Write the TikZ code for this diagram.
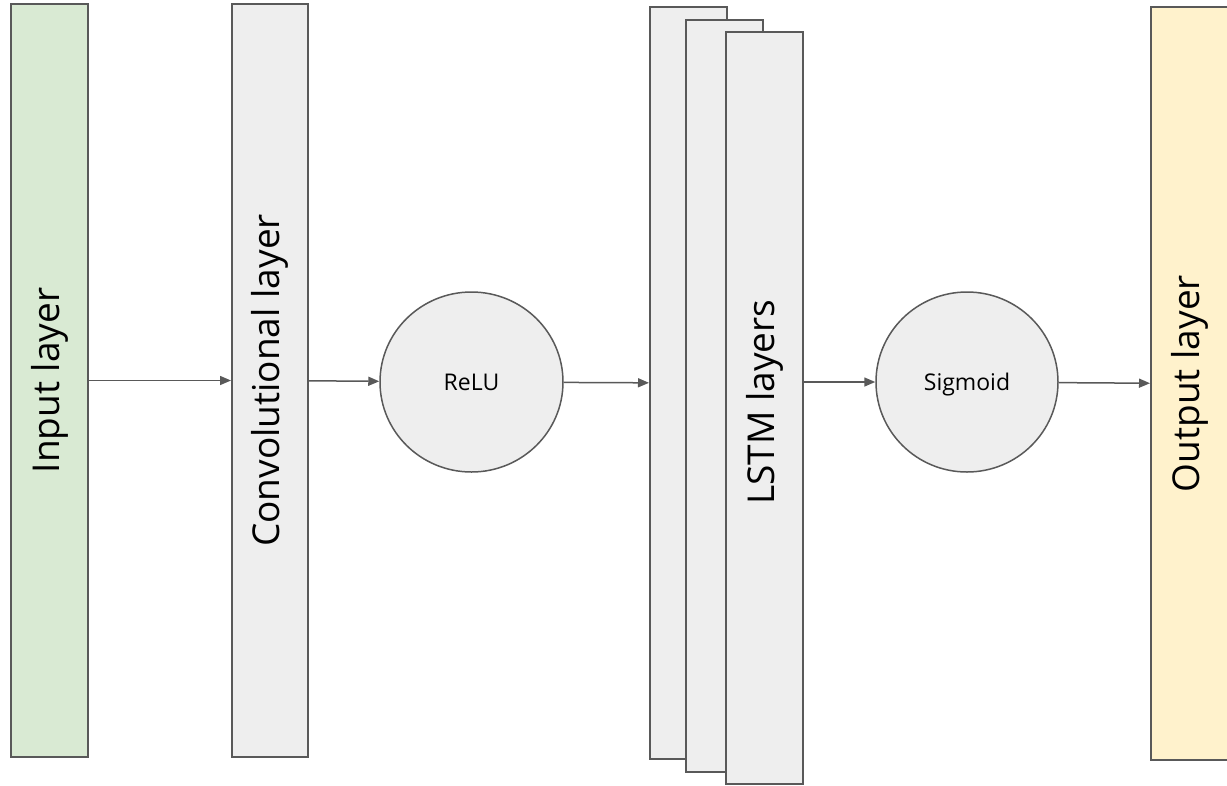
\documentclass[tikz,border=0pt]{standalone}
\usepackage{fontspec}
\setmainfont{Open Sans}
\usetikzlibrary{arrows.meta,shapes.geometric}
\definecolor{edge}{HTML}{595959}
\definecolor{greyfill}{HTML}{EEEEEE}
\definecolor{greenfill}{HTML}{D9EAD3}
\definecolor{yellowfill}{HTML}{FFF2CC}
\newcommand{\biglabel}{\fontsize{37}{44}\selectfont}
\newcommand{\smalllabel}{\fontsize{23}{28}\selectfont}
\tikzset{
  layerbox/.style={rectangle, draw=edge, line width=2pt, inner sep=0pt,
    minimum width=77pt, minimum height=753pt, fill=greyfill},
  actnode/.style={ellipse, draw=edge, line width=1.5pt, fill=greyfill, inner sep=0pt,
    minimum width=183pt, minimum height=180pt, font=\smalllabel,
    text height=16.4pt, text depth=0pt},
  vtext/.style={rotate=90, font=\biglabel, inner sep=0pt},
  link/.style={draw=edge, line width=1.5pt, -{Triangle[length=11pt,width=9pt]}}
}
\begin{document}
\begin{tikzpicture}[x=1pt,y=-1pt]
  \clip (0,0) rectangle (1227,785);
  \fill[white] (0,0) rectangle (1227,785);

  % layers
  \node[layerbox, fill=greenfill, label={[vtext]center:Input layer}] (in) at (49.5,380.5) {};
  \node[layerbox, minimum width=76pt, label={[vtext]center:Convolutional layer}] (conv) at (270,380.5) {};
  \node[actnode] (relu) at (471.5,382) {ReLU};
  \node[layerbox, minimum height=752pt] (lstm1) at (688.5,383) {};
  \node[layerbox, minimum height=752pt] (lstm2) at (724.5,396) {};
  \node[layerbox, minimum height=752pt] (lstm3) at (764.5,408) {};
  \node[vtext] (lstmtxt) at (764.5,402) {LSTM layers};
  \node[actnode, minimum width=182pt] (sig) at (967,382) {Sigmoid};
  \node[layerbox, fill=yellowfill, label={[vtext]center:Output layer}] (out) at (1189.5,383.5) {};

  % connectors
  \draw[link] (in) -- (conv);
  \draw[link] (conv) -- (relu);
  \draw[link] (relu) -- (lstm1);
  \draw[link] (lstm3.east |- sig) -- (sig);
  \draw[link] (sig) -- (out);
\end{tikzpicture}
\end{document}
